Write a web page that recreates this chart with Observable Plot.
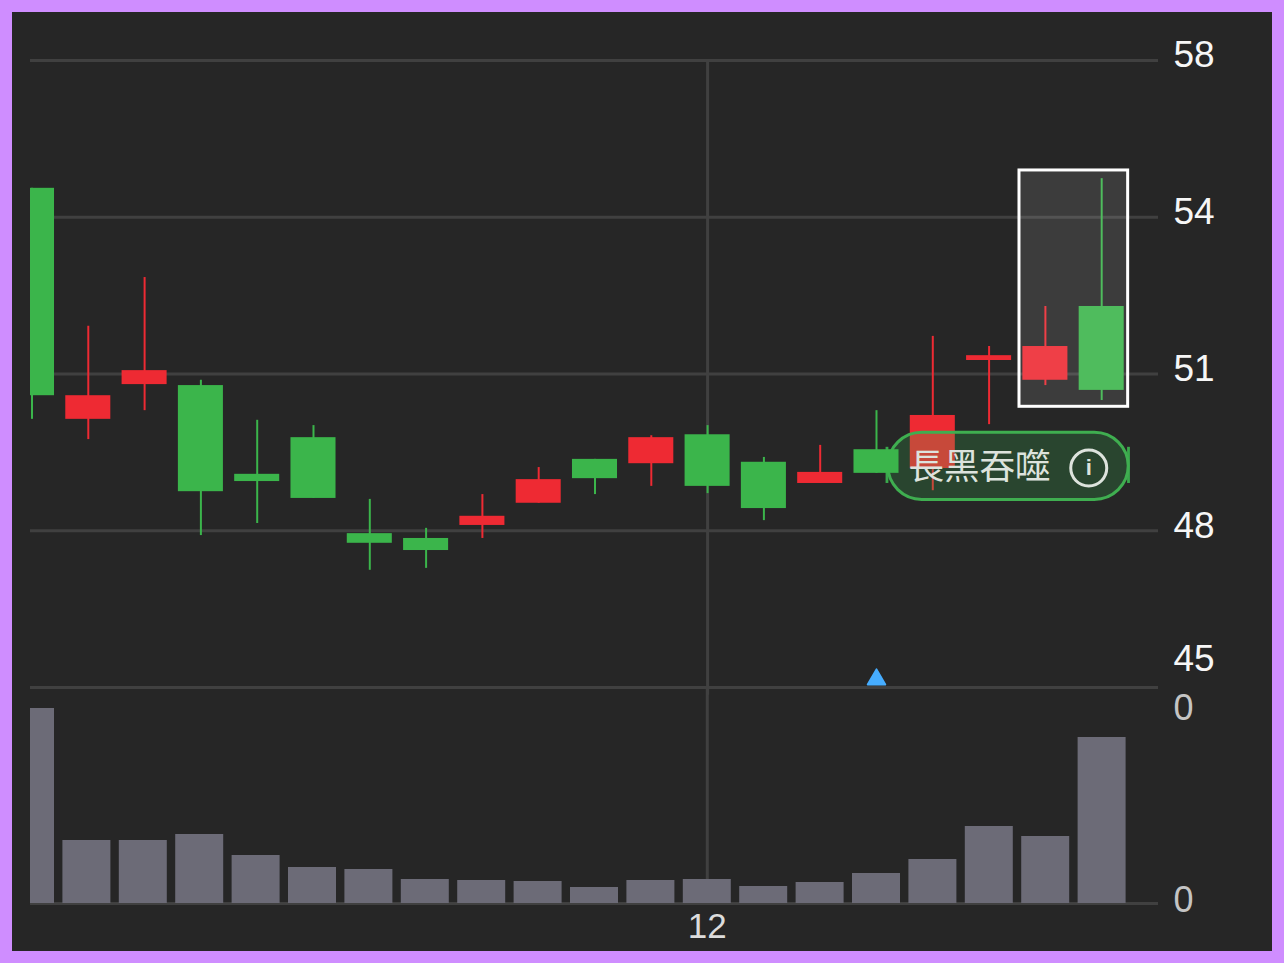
<!DOCTYPE html>
<html>
<head>
<meta charset="utf-8">
<script src="https://cdn.jsdelivr.net/npm/d3@7"></script>
<script src="https://cdn.jsdelivr.net/npm/@observablehq/plot@0.6"></script>
<style>
  html, body { margin: 0; padding: 0; background: #cf8dff; }
  #page { position: relative; width: 1284px; height: 963px; overflow: hidden; }
  #panel { position: absolute; left: 12px; top: 12px; width: 1260px; height: 939px; background: #262626; }
  #price, #volume { position: absolute; left: 0; }
  #price { top: 0; }
  #volume { top: 670px; }
  svg { display: block; }
</style>
</head>
<body>
<div id="page">
  <div id="panel"></div>
  <div id="price"></div>
  <div id="volume"></div>
</div>
<script>
const openPrices  = [55.35,50.56,51.28,51.26,49.42,50.18,48.19,48.09,48.36,48.82,49.73,49.64,50.24,49.67,49.23,49.93,49.54,51.78,51.37,52.90];
const closePrices = [51.05,51.05,51.57,49.06,49.27,48.92,47.99,47.84,48.55,49.31,49.33,50.18,49.17,48.71,49.46,49.44,50.64,51.88,52.07,51.16];
const highPrices  = [55.35,52.49,53.50,51.37,50.54,50.43,48.90,48.30,49.00,49.56,49.73,50.22,50.43,49.77,50.02,50.74,52.28,52.07,52.90,55.55];
const lowPrices   = [50.56,50.14,50.74,48.15,48.40,48.92,47.43,47.47,48.09,48.82,49.00,49.17,49.02,48.46,49.23,49.44,49.08,50.45,51.26,50.95];
const volumes     = [0.39,0.126,0.126,0.138,0.096,0.072,0.068,0.048,0.046,0.044,0.032,0.046,0.048,0.034,0.042,0.06,0.088,0.154,0.134,0.332];
const priceTicks = [48.25,51.5,54.75,58];
const lowestTick = [45];
const volumeTopTick = [0.39];
const volumeBottomTick = [0];
const xTickLabels = [12];
const markerIndex = [15];
const patternBox = [{x1:17.54,x2:19.47,y1:50.82,y2:55.72}];
const badgeBox = [{x1:15.21,x2:19.48,y1:48.89,y2:50.28}];
const badgeStubs = [{x1:15.17,x2:15.22,y1:49.23,y2:49.98},{x1:19.46,x2:19.51,y1:49.23,y2:49.98}];
const badgeLabel = "長黑吞噬";

const RED = "#ee2a33", GREEN = "#3bb54b", GRID = "#404040";
const FONT = "'Liberation Sans', Arial, sans-serif";
const candles = openPrices.map((o,i)=>({i,open:o,close:closePrices[i],high:highPrices[i],low:lowPrices[i],
  color: closePrices[i] >= o ? RED : GREEN}));

function candleMarks(filter){
  return [
    Plot.ruleX(candles,{filter,x:"i",y1:"low",y2:"high",stroke:"color",strokeWidth:2,clip:true}),
    Plot.rect(candles,{filter,x1:d=>d.i-0.4,x2:d=>d.i+0.4,y1:"open",y2:"close",fill:"color",clip:true})
  ];
}

const price = Plot.plot({
  width:1284, height:695,
  marginLeft:30, marginRight:126, marginTop:60, marginBottom:8,
  style:{background:"transparent",fontFamily:FONT},
  x:{domain:[-0.0266,20.009],axis:null},
  y:{domain:[45,58]},
  marks:[
    Plot.ruleY([...lowestTick,...priceTicks],{stroke:GRID,strokeWidth:3}),
    Plot.ruleX(xTickLabels,{y1:44.84,y2:58,stroke:GRID,strokeWidth:3}),
    Plot.axisY(priceTicks,{anchor:"right",tickSize:0,tickPadding:15,fontSize:37,fill:"#f6f6f6",
      tickFormat:d=>String(Math.floor(d)),dy:-5,label:null}),
    Plot.axisY(lowestTick,{anchor:"right",tickSize:0,tickPadding:15,fontSize:37,fill:"#f6f6f6",
      tickFormat:d=>String(d),dy:-28,label:null}),
    ...candleMarks(d=>d.i!==15),
    Plot.rect(badgeStubs,{x1:"x1",x2:"x2",y1:"y1",y2:"y2",fill:"#3aa84c"}),
    Plot.rect(badgeBox,{x1:"x1",x2:"x2",y1:"y1",y2:"y2",rx:34,fill:"rgb(57,190,86)",fillOpacity:0.21,stroke:"#3fae50",strokeWidth:3}),
    ...candleMarks(d=>d.i===15),
    Plot.text([badgeLabel],{x:15.57,y:49.55,text:d=>d,textAnchor:"start",fontSize:35.5,fill:"#dde3dd",
      fontFamily:"'Noto Sans CJK TC', sans-serif"}),
    Plot.dot([0],{x:18.77,y:49.55,r:18,stroke:"#dde3dd",strokeWidth:3,fill:"none"}),
    Plot.text(["i"],{x:18.77,y:49.55,text:d=>d,fontSize:22,fontWeight:700,fill:"#dde3dd"}),
    Plot.rect(patternBox,{x1:"x1",x2:"x2",y1:"y1",y2:"y2",fill:"#ffffff",fillOpacity:0.1,stroke:"#ffffff",strokeWidth:3}),
    Plot.dot(markerIndex,{x:d=>d,y:()=>45,dy:-8,symbol:"triangle",r:6.5,fill:"#46adff",stroke:"#46adff",strokeWidth:2,strokeLinejoin:"round"})
  ]
});
document.getElementById("price").appendChild(price);

const volume = Plot.plot({
  width:1284, height:293,
  marginLeft:30, marginRight:126, marginTop:38, marginBottom:60,
  style:{background:"transparent",fontFamily:FONT},
  x:{domain:[0,20],axis:null},
  y:{domain:[0,0.39]},
  marks:[
    Plot.ruleY(volumeBottomTick,{stroke:GRID,strokeWidth:3}),
    Plot.ruleX(xTickLabels,{y1:0,y2:0.43,stroke:GRID,strokeWidth:3,clip:false}),
    Plot.rect(volumes,{x1:(d,i)=>i-0.4255,x2:(d,i)=>i+0.4255,y1:()=>0,y2:d=>d,fill:"#6c6b77",clip:true}),
    Plot.axisY(volumeTopTick,{anchor:"right",tickSize:0,tickPadding:15,fontSize:36,fill:"#c4c4c4",
      tickFormat:d=>d3.format(".0f")(d),label:null}),
    Plot.axisY(volumeBottomTick,{anchor:"right",tickSize:0,tickPadding:15,fontSize:36,fill:"#c4c4c4",
      tickFormat:d=>d3.format(".0f")(d),label:null,dy:-3}),
    Plot.axisX(xTickLabels,{anchor:"bottom",tickSize:0,tickPadding:10,fontSize:35,fill:"#dcdcdc",label:null})
  ]
});
document.getElementById("volume").appendChild(volume);
</script>
</body>
</html>
